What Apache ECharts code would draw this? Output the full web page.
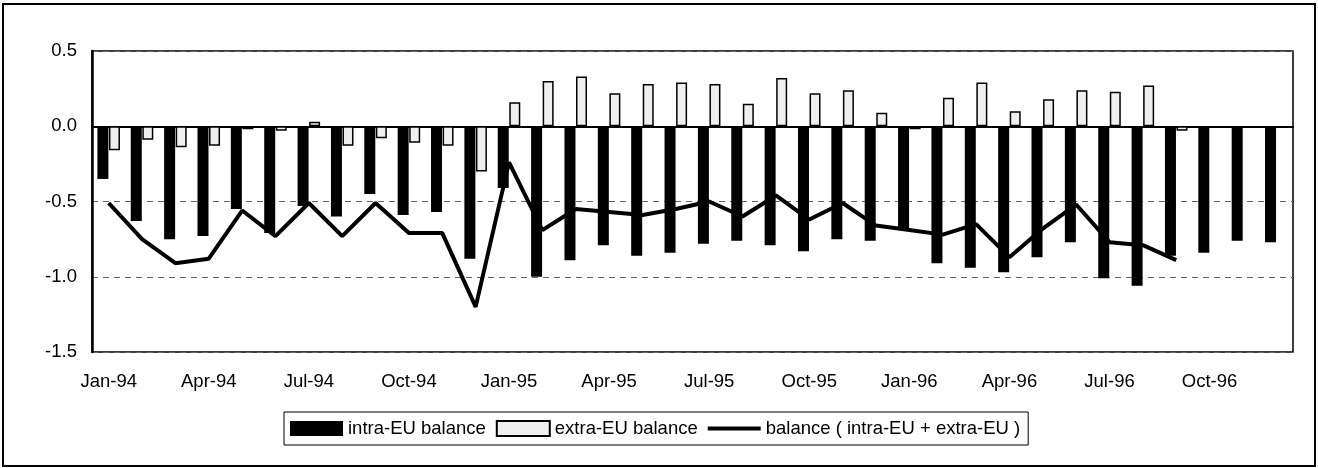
<!DOCTYPE html>
<html>
	<head>
		<meta charset="utf-8" />
		<title>balance</title>
		<script src="https://cdn.jsdelivr.net/npm/echarts@6/dist/echarts.min.js"></script>
		<style>
			html, body { margin: 0; padding: 0; background: #fff; }
		</style>
	</head>

	<body>
		<div id="main" style="width:1318px;height:468px;"></div>
	</body>

	<script type="text/javascript">

	var months = ['Jan-94','Feb-94','Mar-94','Apr-94','May-94','Jun-94','Jul-94','Aug-94','Sep-94','Oct-94','Nov-94','Dec-94',
		'Jan-95','Feb-95','Mar-95','Apr-95','May-95','Jun-95','Jul-95','Aug-95','Sep-95','Oct-95','Nov-95','Dec-95',
		'Jan-96','Feb-96','Mar-96','Apr-96','May-96','Jun-96','Jul-96','Aug-96','Sep-96','Oct-96','Nov-96','Dec-96'];

	// intra-EU balance (black bars)
	var intraEU = [-0.35,-0.63,-0.75,-0.73,-0.55,-0.71,-0.53,-0.60,-0.45,-0.59,-0.57,-0.88,
		-0.41,-1.00,-0.89,-0.79,-0.86,-0.84,-0.78,-0.76,-0.79,-0.83,-0.75,-0.76,
		-0.68,-0.91,-0.94,-0.97,-0.87,-0.77,-1.01,-1.06,-0.86,-0.84,-0.76,-0.77];

	// extra-EU balance (white bars)
	var extraEU = [-0.16,-0.09,-0.14,-0.13,-0.02,-0.03,0.03,-0.13,-0.08,-0.11,-0.13,-0.30,
		0.16,0.30,0.33,0.22,0.28,0.29,0.28,0.15,0.32,0.22,0.24,0.09,
		-0.02,0.19,0.29,0.10,0.18,0.24,0.23,0.27,-0.03,null,null,null];

	// balance line, ends Sep-96
	var balance = [-0.51,-0.75,-0.91,-0.88,-0.56,-0.73,-0.51,-0.73,-0.51,-0.71,-0.71,-1.20,
		-0.24,-0.69,-0.55,-0.57,-0.59,-0.55,-0.50,-0.60,-0.46,-0.62,-0.51,-0.66,
		-0.69,-0.72,-0.65,-0.87,-0.68,-0.52,-0.77,-0.79,-0.89,null,null,null];

	var font = 'Liberation Sans, Arial, sans-serif';

	var myChart = echarts.init(document.getElementById('main'));
	var option = {
		backgroundColor: '#fff',
		animation: false,
		graphic: [{
			type: 'rect',
			shape: { x: 3, y: 4, width: 1312, height: 462 },
			style: { fill: 'none', stroke: '#000', lineWidth: 2 },
			silent: true
		}],
		grid: {
			left: 92,
			right: 25,
			top: 51,
			bottom: 116,
			show: true,
			borderColor: '#000',
			borderWidth: 1.5
		},
		legend: {
			left: 284,
			top: 412,
			padding: [7, 8, 7, 6],
			itemGap: 10,
			itemWidth: 53,
			itemHeight: 15,
			borderColor: '#000',
			borderWidth: 1,
			textStyle: { fontFamily: font, fontSize: 18.5, color: '#000' },
			data: [
				{ name: 'intra-EU balance', icon: 'rect' },
				{ name: 'extra-EU balance', icon: 'rect' },
				{ name: 'balance ( intra-EU + extra-EU )', icon: 'path://M0,0H53V4H0Z' }
			]
		},
		xAxis: {
			type: 'category',
			data: months,
			axisLine: { lineStyle: { color: '#000', width: 2 } },
			axisTick: { show: false },
			axisLabel: {
				interval: 2,
				margin: 20,
				color: '#000',
				fontFamily: font,
				fontSize: 18.5
			}
		},
		yAxis: {
			type: 'value',
			min: -1.5,
			max: 0.5,
			interval: 0.5,
			axisLine: { show: true, lineStyle: { color: '#000', width: 2.5 } },
			axisTick: { show: false },
			axisLabel: {
				margin: 15,
				color: '#000',
				fontFamily: font,
				fontSize: 18.5,
				formatter: function (v) { return v.toFixed(1); }
			},
			splitLine: {
				lineStyle: { color: '#666', width: 1, type: [6, 5] }
			}
		},
		series: [
			{
				name: 'intra-EU balance',
				type: 'bar',
				barWidth: 11,
				barGap: '5%',
				itemStyle: { color: '#000' },
				data: intraEU
			},
			{
				name: 'extra-EU balance',
				type: 'bar',
				barWidth: 11,
				itemStyle: { color: '#efefef', borderColor: '#000', borderWidth: 1.5 },
				data: extraEU
			},
			{
				name: 'balance ( intra-EU + extra-EU )',
				type: 'line',
				symbol: 'none',
				z: 5,
				lineStyle: { color: '#000', width: 4 },
				itemStyle: { color: '#000' },
				data: balance
			}
		]
	};
	myChart.setOption(option);

	</script>
</html>
